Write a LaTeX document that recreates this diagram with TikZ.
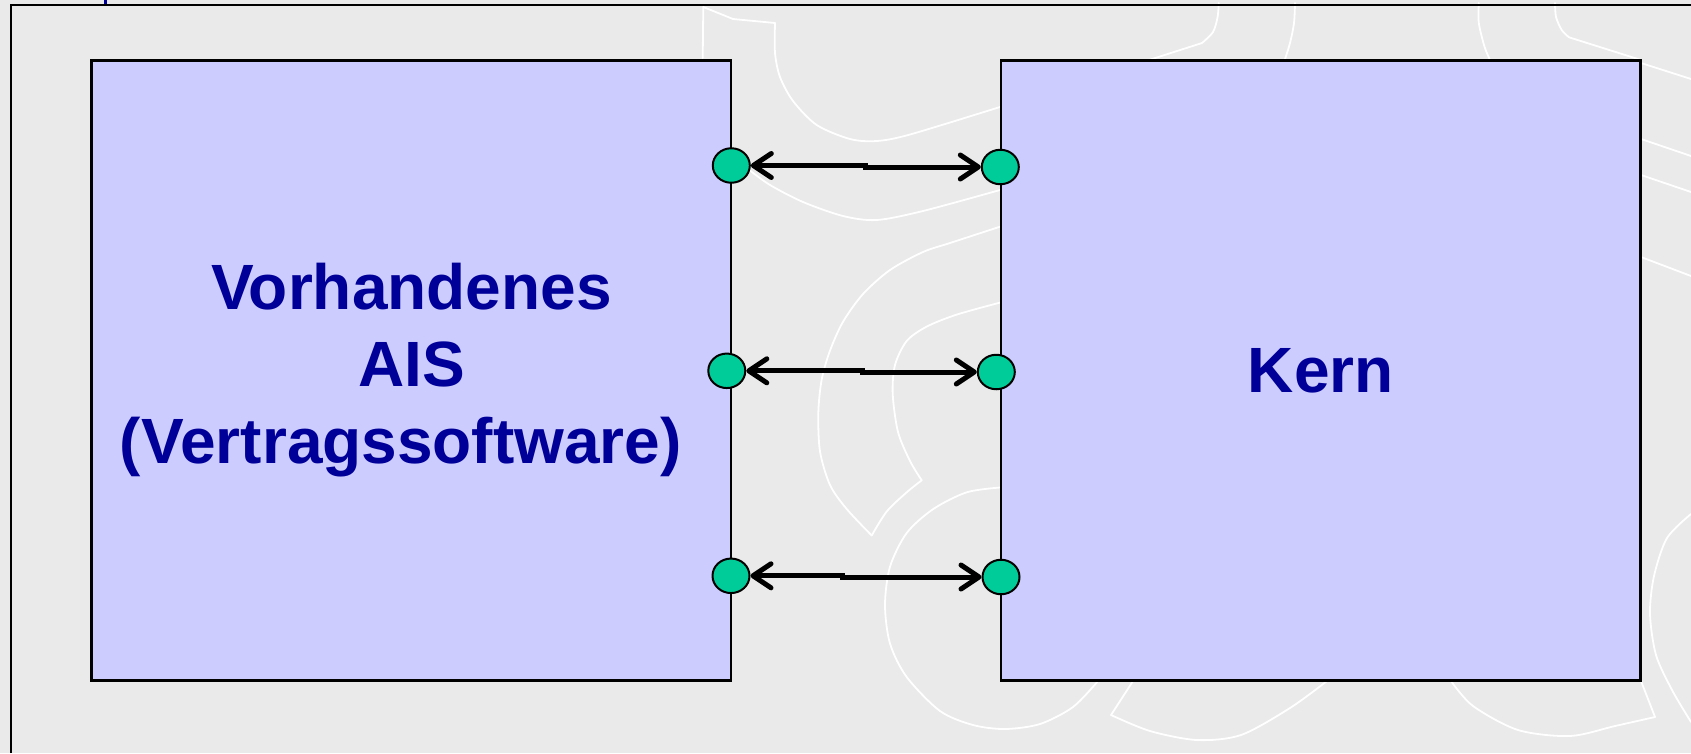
\documentclass[tikz,border=0pt]{standalone}
\usepackage{fontspec}
\setmainfont{Liberation Sans}
\usetikzlibrary{arrows.meta,shapes.geometric}
\definecolor{bg}{RGB}{234,234,234}
\definecolor{boxfill}{RGB}{204,204,255}
\definecolor{txtblue}{RGB}{0,0,153}
\definecolor{portgreen}{RGB}{0,204,153}
\begin{document}
\begin{tikzpicture}[x=1pt,y=-1pt,
  wm/.style={white, line width=1.8pt, line join=round, line cap=round},
  block/.style={draw=black, line width=2.5pt, fill=boxfill, inner sep=0pt,
    text=txtblue, align=center,
    font=\fontsize{64}{77}\selectfont\bfseries},
  portnode/.style={ellipse, draw=black, line width=2pt, fill=portgreen,
    minimum width=37pt, minimum height=34.5pt, inner sep=0pt},
  link/.style={line width=5pt, line join=miter,
    {Straight Barb[length=18pt,width=24pt,round]}-{Straight Barb[length=18pt,width=24pt,round]}}]
\useasboundingbox (0,0) rectangle (1691,753);
\fill[bg] (0,0) rectangle (1691,753);
% background watermark curves
\draw[wm] (702.7,58) -- (703.3,7) -- (733,19) -- (775,23);
\draw[wm] plot[smooth] coordinates {(775,23) (775,53) (780,77) (793,101) (816.7,125) (850,139) (876.7,141) (910,134.5) (1000,107)};
\draw[wm] plot[smooth] coordinates {(750,170.5) (770,185) (803,202) (843,216) (876.7,220) (923,211) (1000,190)};
\draw[wm] plot[smooth] coordinates {(1000,226.7) (950,243) (923,252) (890,270) (863,294) (843,321.8) (830,350.6) (821.7,379.4) (818.3,413) (820,451.5) (830,485) (846.7,509) (871.7,535.5)};
\draw[wm] plot[smooth] coordinates {(871.7,535.5) (886.7,511.5) (906.7,492.3) (921.7,480.3)};
\draw[wm] plot[smooth] coordinates {(921.7,480.3) (910,461) (898,432) (892.7,394) (895,365) (906.7,341) (926.7,326.6) (956.7,314.6) (1000,302.6)};
\draw[wm] plot[smooth] coordinates {(1000,487.5) (966.7,492.3) (933.3,509) (906.7,533) (890,566.7) (885,605) (890,643.6) (906.7,677) (940,711) (973,725) (1005,729) (1040,724) (1073,707) (1098,681)};
\draw[wm] (1133,681) -- (1111,715);
\draw[wm] plot[smooth] coordinates {(1111,715) (1150,731) (1197,740) (1241,735) (1290,708) (1327,681)};
\draw[wm] plot[smooth] coordinates {(1451,681) (1473,706) (1518,730) (1570,736) (1615,726) (1655,717)};
\draw[wm] (1655,717) -- (1641,681);
\draw[wm] plot[smooth] coordinates {(1691,514) (1667,538) (1654,576) (1650,614) (1656,655) (1672,690) (1691,722)};
\draw[wm] (1641,139) -- (1691,156);
\draw[wm] (1641,175) -- (1691,192);
\draw[wm] (1641,257) -- (1691,276);
\draw[wm] plot[smooth] coordinates {(1218.7,3) (1217.6,17) (1213,32) (1202,43)};
\draw[wm] (1202,43) -- (1149,60);
\draw[wm] plot[smooth] coordinates {(1295,3) (1294,23) (1290,43) (1284.7,60)};
\draw[wm] plot[smooth] coordinates {(1478.8,3) (1478.8,23) (1484.5,46.7) (1490,60)};
\draw[wm] plot[smooth] coordinates {(1555,3) (1556,17) (1561.7,30) (1569,37.3)};
\draw[wm] (1569,37.3) -- (1641,60);
\draw[wm] (1641,63) -- (1691,79);
% frame
\fill[txtblue] (103.5,0) rectangle (107,4.5);
\draw[line width=2pt, black] (11,753) -- (11,4.5) -- (1691,4.5);
% blocks
\node[block, minimum width=639.3pt, minimum height=620pt] (ais) at (411.35,370.45)
  {Vorhandenes\\AIS\\(Vertragssoftware)\kern21pt};
\node[block, minimum width=639.5pt, minimum height=620pt] (kern) at (1320.75,370.45) {Kern};
% ports
\node[portnode] (l1) at (731.3,165.5) {};
\node[portnode] (r1) at (1000.3,167) {};
\node[portnode] (l2) at (726.8,370.8) {};
\node[portnode] (r2) at (996.3,372) {};
\node[portnode] (l3) at (731,575.8) {};
\node[portnode] (r3) at (1001,577) {};
\coordinate (m1) at (865,0);
\coordinate (m2) at (862.5,0);
\coordinate (m3) at (842.5,0);
\draw[link] (l1) -- (l1 -| m1) -- (m1 |- r1) -- (r1);
\draw[link] (l2) -- (l2 -| m2) -- (m2 |- r2) -- (r2);
\draw[link] (l3) -- (l3 -| m3) -- (m3 |- r3) -- (r3);
\end{tikzpicture}
\end{document}
